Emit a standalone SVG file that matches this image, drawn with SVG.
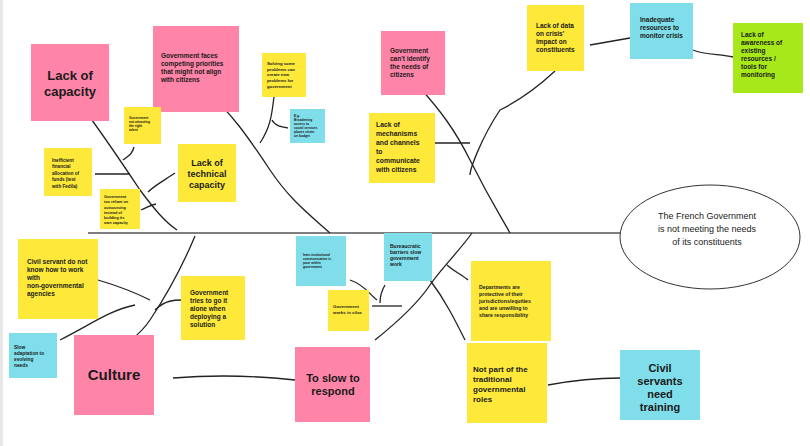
<svg xmlns="http://www.w3.org/2000/svg" width="810" height="446" viewBox="0 0 810 446">
<style>
.y{fill:#fee93a}.p{fill:#fe84a8}.c{fill:#80deea}.g{fill:#a7e81a}
text{font-family:"Liberation Sans",Arial,sans-serif;fill:#1a1a1a}
.b{font-weight:bold}
.l{fill:none;stroke:#222;stroke-width:1.3}
</style>
<rect width="810" height="446" fill="#fff"/>
<rect x="0" y="0" width="3" height="446" fill="#e8e8e8"/>
<g id="connectors" class="l">
<path d="M88 233 L625 233" stroke="#555" stroke-width="1.5"/>
<path d="M80 104 C100 130 120 160 140 190 C155 210 165 222 177 230"/>
<path d="M134 147 C132 155 128 156 123 160"/>
<path d="M95 174 L130 174"/>
<path d="M148 192 C155 185 165 180 175 173"/>
<path d="M141 210 C148 207 150 205 156 204"/>
<path d="M204 90 C230 110 250 140 270 170 C290 200 310 215 330 233"/>
<path d="M274 97 C272 110 272 125 260 143"/>
<path d="M272 120 C275 126 282 127 288 128"/>
<path d="M420 88 C440 110 455 130 470 160 C490 200 500 215 510 233"/>
<path d="M435 143 L470 143"/>
<path d="M555 71 C540 85 520 100 500 110 C480 140 470 170 470 175"/>
<path d="M630 38 L590 45"/>
<path d="M693 50 C705 55 720 54 733 57"/>
<path d="M195 236 C185 260 170 290 150 320 C140 335 130 340 125 345"/>
<path d="M98 280 C115 285 130 290 150 300"/>
<path d="M60 340 C90 325 110 310 135 305"/>
<path d="M155 310 C165 300 175 300 182 300"/>
<path d="M173 378 C210 375 250 375 295 380"/>
<path d="M472 233 C460 250 440 270 430 285 C420 300 400 320 375 340"/>
<path d="M447 265 C455 272 462 275 468 280"/>
<path d="M430 280 C445 300 455 320 465 340"/>
<path d="M372 306 L402 306"/>
<path d="M380 303 C380 295 382 290 385 285"/>
<path d="M350 280 C365 285 370 295 377 300"/>
<path d="M548 385 C575 380 600 378 620 378"/>
</g>
<g id="n1"><rect class="p" x="31" y="44" width="78" height="77"/><text x="70" y="80" font-size="13" class="b" text-anchor="middle">Lack of</text><text x="70" y="96" font-size="13" class="b" text-anchor="middle">capacity</text></g>
<g id="n2"><rect class="p" x="153" y="26" width="86" height="86"/><text font-size="6.5" class="b"><tspan x="161" y="58">Government faces</tspan><tspan x="161" y="66">competing priorities</tspan><tspan x="161" y="74">that might not align</tspan><tspan x="161" y="82">with citizens</tspan></text></g>
<g id="n3"><rect class="y" x="124" y="107" width="37" height="37"/><text font-size="3.3" class="b"><tspan x="129" y="119">Government</tspan><tspan x="129" y="123">not attracting</tspan><tspan x="129" y="127">the right</tspan><tspan x="129" y="131">talent</tspan></text></g>
<g id="n4"><rect class="y" x="262" y="53" width="44" height="44"/><text font-size="4.3" class="b"><tspan x="267" y="65">Solving some</tspan><tspan x="267" y="71">problems can</tspan><tspan x="267" y="76">create new</tspan><tspan x="267" y="82">problems for</tspan><tspan x="267" y="88">government</tspan></text></g>
<g id="n5"><rect class="c" x="290" y="109" width="35" height="34"/><text font-size="3.3" class="b"><tspan x="294" y="117">E.g.</tspan><tspan x="294" y="121">Broadening</tspan><tspan x="294" y="125">access to</tspan><tspan x="294" y="129">social services</tspan><tspan x="294" y="133">places strain</tspan><tspan x="294" y="137">on budget</tspan></text></g>
<g id="n6"><rect class="y" x="44" y="148" width="48" height="48"/><text font-size="4.6" class="b"><tspan x="52" y="162">Inefficient</tspan><tspan x="52" y="168">financial</tspan><tspan x="52" y="175">allocation of</tspan><tspan x="52" y="181">funds (test</tspan><tspan x="52" y="188">with Fedila)</tspan></text></g>
<g id="n7"><rect class="y" x="178" y="144" width="58" height="58"/><text font-size="9" class="b" text-anchor="middle"><tspan x="207" y="166">Lack of</tspan><tspan x="207" y="177">technical</tspan><tspan x="207" y="188">capacity</tspan></text></g>
<g id="n8"><rect class="y" x="100" y="189" width="40" height="40"/><text font-size="3.8" class="b"><tspan x="104" y="198">Government</tspan><tspan x="104" y="203">too reliant on</tspan><tspan x="104" y="209">outsourcing</tspan><tspan x="104" y="214">instead of</tspan><tspan x="104" y="219">building its</tspan><tspan x="104" y="224">own capacity</tspan></text></g>
<g id="n9"><rect class="p" x="381" y="31" width="64" height="64"/><text font-size="6.5" class="b"><tspan x="390" y="53">Government</tspan><tspan x="390" y="61">can't identify</tspan><tspan x="390" y="69">the needs of</tspan><tspan x="390" y="77">citizens</tspan></text></g>
<g id="n10"><rect class="y" x="527" y="5" width="57" height="66"/><text font-size="6.5" class="b"><tspan x="536" y="28">Lack of data</tspan><tspan x="536" y="36">on crisis'</tspan><tspan x="536" y="44">impact on</tspan><tspan x="536" y="52">constituents</tspan></text></g>
<g id="n11"><rect class="c" x="630" y="3" width="63" height="56"/><text font-size="6.5" class="b"><tspan x="640" y="22">Inadequate</tspan><tspan x="640" y="30">resources to</tspan><tspan x="640" y="38">monitor crisis</tspan></text></g>
<g id="n12"><rect class="g" x="733" y="23" width="70" height="70"/><text font-size="6.5" class="b"><tspan x="741" y="37">Lack of</tspan><tspan x="741" y="45">awareness of</tspan><tspan x="741" y="53">existing</tspan><tspan x="741" y="61">resources /</tspan><tspan x="741" y="69">tools for</tspan><tspan x="741" y="77">monitoring</tspan></text></g>
<g id="n13"><rect class="y" x="369" y="113" width="66" height="70"/><text font-size="6.8" class="b"><tspan x="376" y="127">Lack of</tspan><tspan x="376" y="136">mechanisms</tspan><tspan x="376" y="145">and channels</tspan><tspan x="376" y="154">to</tspan><tspan x="376" y="163">communicate</tspan><tspan x="376" y="172">with citizens</tspan></text></g>
<g id="n14"><ellipse cx="710" cy="237" rx="90" ry="52" fill="#fff" stroke="#333" stroke-width="1"/><text font-size="9" fill="#444" text-anchor="middle"><tspan x="707" y="219">The French Government</tspan><tspan x="707" y="232">is not meeting the needs</tspan><tspan x="707" y="245">of its constituents</tspan></text></g>
<g id="n15"><rect class="y" x="18" y="239" width="80" height="80"/><text font-size="6.5" class="b"><tspan x="27" y="264">Civil servant do not</tspan><tspan x="27" y="272">know how to work</tspan><tspan x="27" y="280">with</tspan><tspan x="27" y="288">non-governmental</tspan><tspan x="27" y="296">agencies</tspan></text></g>
<g id="n16"><rect class="y" x="181" y="276" width="64" height="64"/><text font-size="6.5" class="b"><tspan x="190" y="295">Government</tspan><tspan x="190" y="303">tries to go it</tspan><tspan x="190" y="311">alone when</tspan><tspan x="190" y="319">deploying a</tspan><tspan x="190" y="327">solution</tspan></text></g>
<g id="n17"><rect class="c" x="9" y="333" width="48" height="45"/><text font-size="4.8" class="b"><tspan x="14" y="349">Slow</tspan><tspan x="14" y="355">adaptation to</tspan><tspan x="14" y="361">evolving</tspan><tspan x="14" y="367">needs</tspan></text></g>
<g id="n18"><rect class="p" x="74" y="335" width="80" height="80"/><text x="114" y="380" font-size="15" class="b" text-anchor="middle">Culture</text></g>
<g id="n19"><rect class="c" x="296" y="236" width="50" height="50"/><text font-size="3.3" class="b"><tspan x="303" y="256">Inter-institutional</tspan><tspan x="303" y="260">communication is</tspan><tspan x="303" y="264">poor within</tspan><tspan x="303" y="268">government</tspan></text></g>
<g id="n20"><rect class="c" x="384" y="233" width="48" height="48"/><text font-size="5" class="b"><tspan x="390" y="248">Bureaucratic</tspan><tspan x="390" y="254">barriers slow</tspan><tspan x="390" y="260">government</tspan><tspan x="390" y="266">work</tspan></text></g>
<g id="n21"><rect class="y" x="328" y="290" width="41" height="41"/><text font-size="4.4" class="b"><tspan x="333" y="308">Government</tspan><tspan x="333" y="314">works in silos</tspan></text></g>
<g id="n22"><rect class="y" x="471" y="261" width="80" height="80"/><text font-size="5.2" class="b"><tspan x="479" y="289">Departments are</tspan><tspan x="479" y="296">protective of their</tspan><tspan x="479" y="303">jurisdictions/equities</tspan><tspan x="479" y="310">and are unwilling to</tspan><tspan x="479" y="317">share responsibility</tspan></text></g>
<g id="n23"><rect class="p" x="295" y="347" width="75" height="75"/><text font-size="11" class="b" text-anchor="middle"><tspan x="333" y="382">To slow to</tspan><tspan x="333" y="395">respond</tspan></text></g>
<g id="n24"><rect class="y" x="467" y="343" width="80" height="80"/><text font-size="8" class="b"><tspan x="473" y="372">Not part of the</tspan><tspan x="473" y="382">traditional</tspan><tspan x="473" y="392">governmental</tspan><tspan x="473" y="402">roles</tspan></text></g>
<g id="n25"><rect class="c" x="620" y="350" width="80" height="70"/><text font-size="11" class="b" text-anchor="middle"><tspan x="660" y="372">Civil</tspan><tspan x="660" y="385">servants</tspan><tspan x="660" y="398">need</tspan><tspan x="660" y="411">training</tspan></text></g>
</svg>
